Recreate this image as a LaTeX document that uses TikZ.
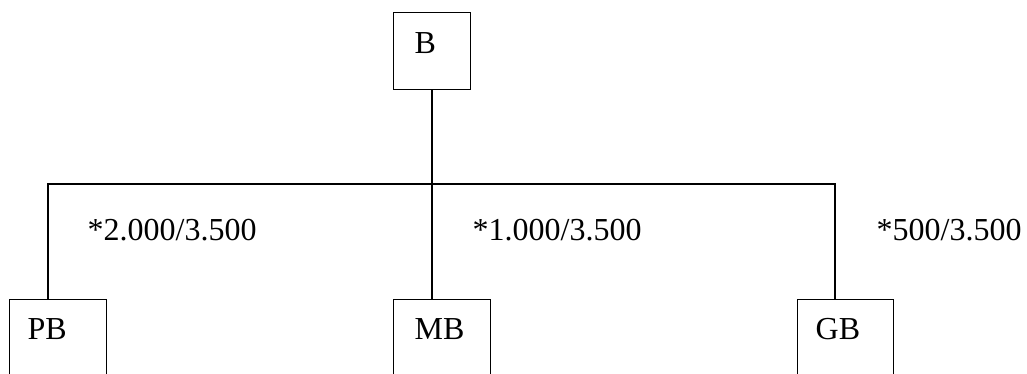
\documentclass[tikz,border=0pt]{standalone}
\usepackage{fontspec}
\setmainfont{Liberation Serif}
\usepackage{tikz}

\tikzset{
	box/.style={draw, anchor=north west, inner xsep=19pt, inner ysep=0pt, align=left, text height=40pt},
	share/.style={anchor=base west, inner sep=0pt}
}

\begin{document}
\begin{tikzpicture}[x=1pt,y=1pt,font=\fontsize{32}{38}\selectfont,line width=1.4pt]
	\useasboundingbox (0,0) rectangle (1027,374);
	\clip (0,0) rectangle (1027,374);
	
	% top box
	\node[box, inner xsep=21pt, text width=35pt, text height=41pt, text depth=36pt] (B) at (393,362) {B};
	
	% boxes below, cut off by the page
	\node[box, inner xsep=18pt, text width=61pt, text depth=100pt] (PB) at (9,75) {PB};
	\node[box, inner xsep=21pt, text width=55pt, text depth=100pt] (MB) at (393,75) {MB};
	\node[box, inner xsep=18pt, text width=60pt, text depth=100pt] (GB) at (797,75) {GB};
	
	\coordinate (bar) at (432,190);
	\draw (bar |- B.south) -- (bar);
	\draw ([xshift=39pt]PB.north west) |- (bar) -| ([xshift=38pt]GB.north west);
	\draw (bar) -- ([xshift=39pt]MB.north west);
	
	\node[share] (sPB) at (87,133) {*2.000/3.500};
	\node[share] (sMB) at (472,133) {*1.000/3.500};
	\node[share] (sGB) at (876,133) {*500/3.500};
	
\end{tikzpicture}
\end{document}
